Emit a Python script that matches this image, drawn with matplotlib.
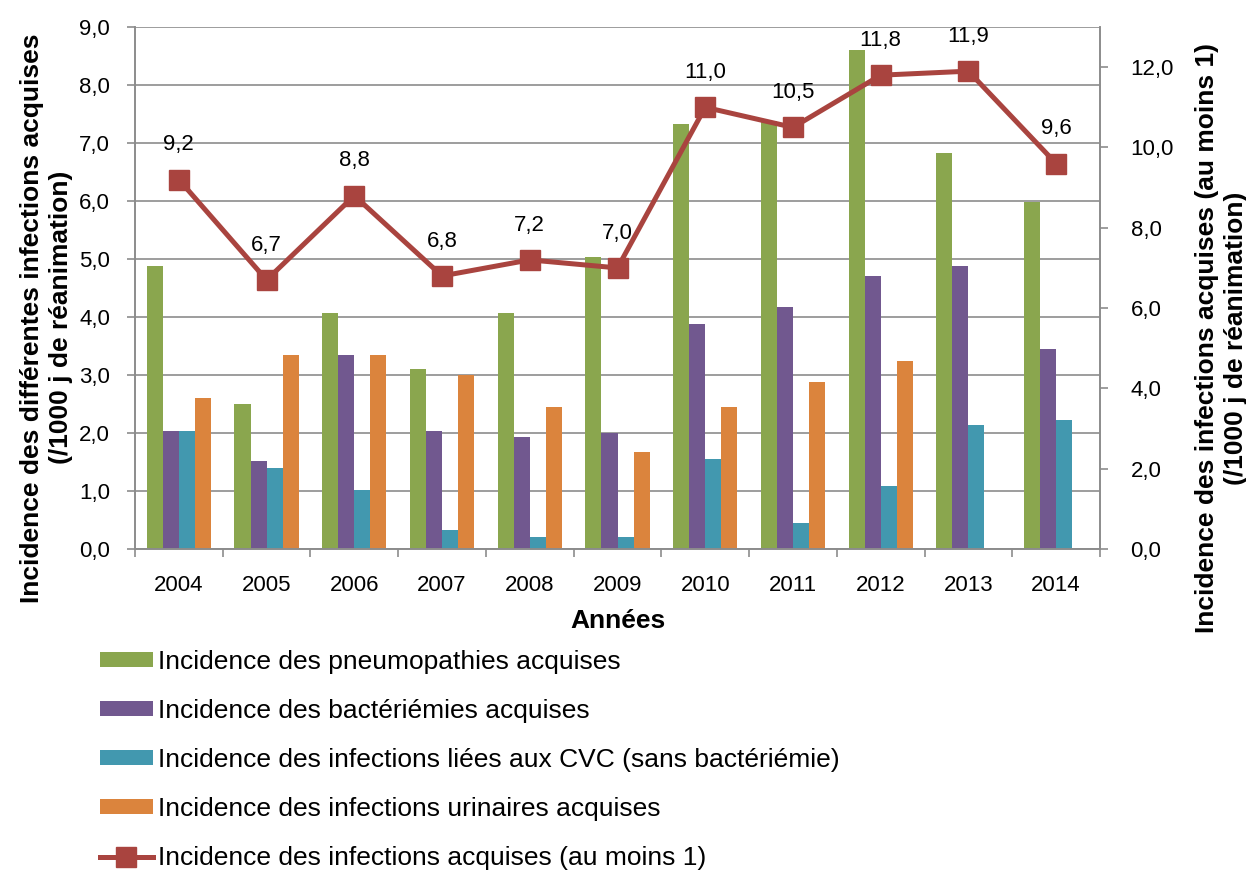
import numpy as np
import matplotlib
matplotlib.use("Agg")
import matplotlib.pyplot as plt
from matplotlib.lines import Line2D
from matplotlib.patches import Patch

plt.rcParams['font.family'] = ['Liberation Sans', 'DejaVu Sans']

years = ["2004", "2005", "2006", "2007", "2008", "2009", "2010", "2011", "2012", "2013", "2014"]
pneumo = [4.88, 2.50, 4.07, 3.10, 4.07, 5.03, 7.33, 7.38, 8.60, 6.83, 5.98]
bacter = [2.03, 1.52, 3.35, 2.03, 1.93, 2.00, 3.88, 4.18, 4.70, 4.88, 3.45]
cvc = [2.03, 1.40, 1.02, 0.32, 0.20, 0.20, 1.55, 0.45, 1.08, 2.13, 2.23]
urin = [2.60, 3.35, 3.35, 3.00, 2.45, 1.67, 2.45, 2.88, 3.25, np.nan, np.nan]
total = [9.2, 6.7, 8.8, 6.8, 7.2, 7.0, 11.0, 10.5, 11.8, 11.9, 9.6]

labels = [
    "Incidence des pneumopathies acquises",
    "Incidence des bactériémies acquises",
    "Incidence des infections liées aux CVC (sans bactériémie)",
    "Incidence des infections urinaires acquises",
    "Incidence des infections acquises (au moins 1)",
]
colors = ["#8AA64E", "#71588F", "#4298AF", "#DB843D"]
line_color = "#A9443F"
grid_color = "#8C8C8C"
tick_fs = 16
title_fs = 19


def fr(v, pos=None):
    return f"{v:.1f}".replace(".", ",")


fig = plt.figure(figsize=(12.46, 8.72), dpi=100)
ax = fig.add_axes([135 / 1246, 1 - 549 / 872, 965 / 1246, 522 / 872])
ax2 = ax.twinx()

x = np.arange(len(years))
w = 0.183
series = [pneumo, bacter, cvc, urin]
for i, (vals, c) in enumerate(zip(series, colors)):
    ax.bar(x + (i - 1.5) * w, vals, width=w, color=c, zorder=2)

ax.set_xlim(-0.5, len(years) - 0.5)
ax.set_ylim(0, 9)
ax.set_yticks(np.arange(0, 9.01, 1))
ax.yaxis.set_major_formatter(plt.FuncFormatter(fr))
ax.set_xticks(x)
ax.set_xticklabels(years)
ax.set_xticks(np.arange(-0.5, len(years)), minor=True)
ax.tick_params(axis="x", which="major", length=0, labelsize=tick_fs, pad=19)
ax.tick_params(axis="x", which="minor", length=6, width=1.2, color=grid_color, direction="out")
ax.tick_params(axis="y", length=6, width=1.2, color=grid_color, labelsize=tick_fs, pad=12, direction="out")
ax.grid(axis="y", color=grid_color, linewidth=1.2, zorder=0)
ax.set_axisbelow(True)
for a in (ax, ax2):
    a.spines["top"].set_visible(False)
    for s in ["left", "bottom", "right"]:
        a.spines[s].set_color(grid_color)
        a.spines[s].set_linewidth(1.2)

ax.set_ylabel("Incidence des différentes infections acquises\n(/1000 j de réanimation)",
              fontsize=title_fs, fontweight="bold", linespacing=1.25)
ax.yaxis.set_label_coords(-0.064, 0.443)
ax.set_xlabel("Années", fontsize=title_fs, fontweight="bold", labelpad=9)

ax2.plot(x, total, color=line_color, linewidth=3.6, marker="s", markersize=14, zorder=3)
ax2.set_ylim(0, 13)
ax2.set_yticks(np.arange(0, 12.01, 2))
ax2.yaxis.set_major_formatter(plt.FuncFormatter(fr))
ax2.tick_params(axis="y", length=6, width=1.2, color=grid_color, labelsize=tick_fs, pad=16, direction="out")
ax2.set_ylabel("Incidence des infections acquises (au moins 1)\n(/1000 j de réanimation)",
               fontsize=title_fs, fontweight="bold", linespacing=1.3)
ax2.yaxis.set_label_coords(1.098, 0.404)
for xi, v in zip(x, total):
    ax2.annotate(fr(v), (xi, v), xytext=(0, 25), textcoords="offset points",
                 ha="center", va="center", fontsize=tick_fs)

handles = [Patch(facecolor=c) for c in colors]
handles.append(Line2D([0], [0], color=line_color, linewidth=3.6, marker="s", markersize=14))
fig.legend(handles, labels, loc="upper left", bbox_to_anchor=(100 / 1246, 1 - 650 / 872),
           frameon=False, fontsize=title_fs, handlelength=2.0, handleheight=0.5,
           handletextpad=0.2, labelspacing=0.95, borderaxespad=0, borderpad=0)

fig.savefig("out.png", dpi=100)
